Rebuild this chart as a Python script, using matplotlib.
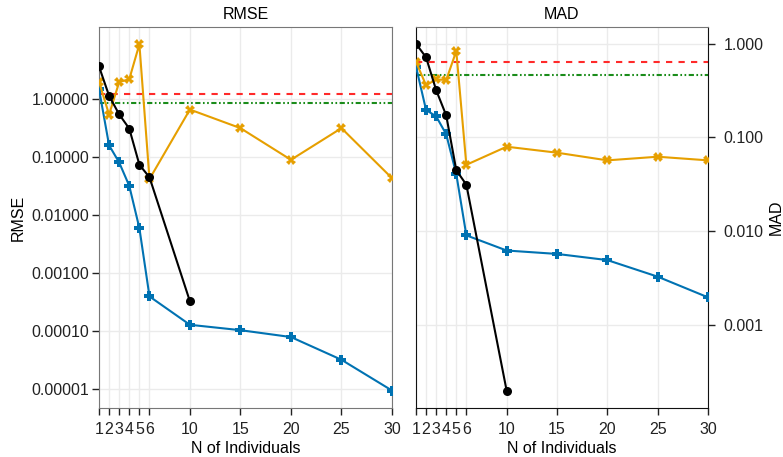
import numpy as np
import matplotlib
matplotlib.use("Agg")
import matplotlib.pyplot as plt
from matplotlib.ticker import FixedLocator, FixedFormatter

plt.rcParams['font.family'] = ['Liberation Sans', 'DejaVu Sans']

# x positions (number of individuals)
n_ind = [1, 2, 3, 4, 5, 6, 10, 15, 20, 25, 30]
n_short = [1, 2, 3, 4, 5, 6, 10]
xticks = [1, 2, 3, 4, 5, 6, 10, 15, 20, 25, 30]

# RMSE panel
rmse_blue = [1.5, 0.16, 0.081, 0.032, 0.006, 0.0004, 0.00013, 0.000105, 0.00008, 0.0000325, 0.0000096]
rmse_orange = [2.0, 0.54, 1.96, 2.2, 8.8, 0.042, 0.66, 0.316, 0.09, 0.316, 0.0435]
rmse_black = [3.66, 1.14, 0.545, 0.31, 0.074, 0.045, 0.00033]
rmse_red = 1.22
rmse_green = 0.84

# MAD panel
mad_blue = [0.57, 0.196, 0.168, 0.108, 0.0406, 0.009, 0.0062, 0.0057, 0.0049, 0.00326, 0.00196]
mad_orange = [0.64, 0.36, 0.417, 0.41, 0.836, 0.051, 0.0796, 0.0687, 0.0569, 0.0622, 0.0569]
mad_black = [1.0, 0.716, 0.32, 0.172, 0.0446, 0.0313, 0.000198]
mad_red = 0.632
mad_green = 0.463

BLUE = '#0072B2'
ORANGE = '#E69F00'
GREEN_DASH = (0, (2.5, 1.2, 0.8, 1.2, 0.8, 1.2))
FS = 11.5


def draw_panel(ax, blue, orange, black, red, green):
    ax.axhline(red, color='#ff2a2a', lw=1.5, ls=(0, (3, 3)), zorder=2)
    ax.axhline(green, color='#1a8c1a', lw=1.5, ls=GREEN_DASH, zorder=2)
    ax.plot(n_ind, blue, color=BLUE, lw=1.5, marker='P', ms=6.5, mew=0, zorder=3)
    ax.plot(n_ind, orange, color=ORANGE, lw=1.5, marker='X', ms=6.5, mew=0, zorder=3)
    ax.plot(n_short, black, color='black', lw=1.5, marker='o', ms=6.5, mew=0, zorder=4)
    ax.set_yscale('log')
    ax.set_xlim(1, 30)
    ax.xaxis.set_major_locator(FixedLocator(xticks))
    ax.set_xticklabels([str(t) for t in xticks])
    ax.yaxis.set_minor_locator(FixedLocator([]))
    ax.grid(True, color='#ebebeb', lw=1, zorder=0)
    ax.set_axisbelow(True)
    ax.tick_params(labelsize=FS, length=5, width=1, colors='#222222')
    ax.tick_params(axis='x', pad=5)
    ax.set_xlabel('N of Individuals', fontsize=FS, labelpad=3)


fig = plt.figure(figsize=(7.83, 4.57), dpi=100)
ax1 = fig.add_axes([0.1264, 0.1072, 0.3742, 0.8337])
ax2 = fig.add_axes([0.5313, 0.1072, 0.3729, 0.8337])

draw_panel(ax1, rmse_blue, rmse_orange, rmse_black, rmse_red, rmse_green)
ax1.set_ylim(4.8e-6, 17.4)
yt1 = [1e-5, 1e-4, 1e-3, 1e-2, 1e-1, 1]
ax1.yaxis.set_major_locator(FixedLocator(yt1))
ax1.yaxis.set_major_formatter(FixedFormatter(['%.5f' % v for v in yt1]))
ax1.tick_params(axis='y', pad=2)
ax1.set_ylabel('RMSE', fontsize=FS, labelpad=4)
ax1.set_title('RMSE', fontsize=FS, pad=6)
for s in ax1.spines.values():
    s.set_color('#777777')

draw_panel(ax2, mad_blue, mad_orange, mad_black, mad_red, mad_green)
ax2.set_ylim(1.29e-4, 1.51)
yt2 = [1e-3, 1e-2, 1e-1, 1]
ax2.yaxis.set_major_locator(FixedLocator(yt2))
ax2.yaxis.set_major_formatter(FixedFormatter(['%.3f' % v for v in yt2]))
ax2.yaxis.tick_right()
ax2.yaxis.set_label_position('right')
ax2.tick_params(axis='y', pad=6)
ax2.set_ylabel('MAD', fontsize=FS, labelpad=4)
ax2.set_title('MAD', fontsize=FS, pad=6)
for name, s in ax2.spines.items():
    s.set_color('#777777' if name == 'top' else '#111111')

fig.savefig('out.png', dpi=100)
